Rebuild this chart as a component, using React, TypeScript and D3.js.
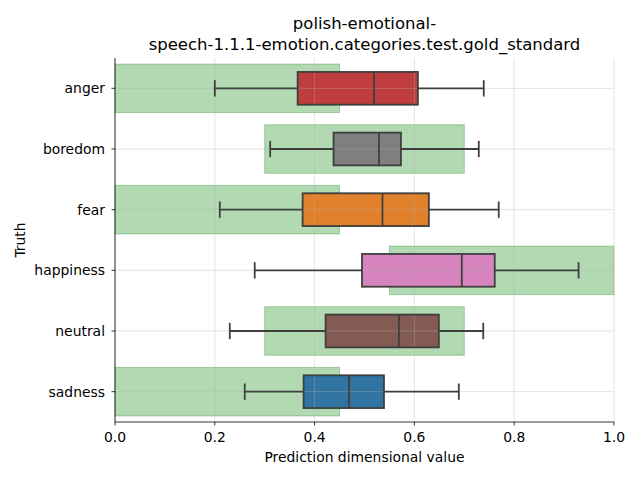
import React from "react";
import * as d3 from "d3";

const categories = ["anger", "boredom", "fear", "happiness", "neutral", "sadness"];
const whiskerLow = [0.2, 0.311, 0.21, 0.28, 0.23, 0.26];
const q1 = [0.366, 0.438, 0.376, 0.495, 0.422, 0.378];
const median = [0.519, 0.529, 0.536, 0.695, 0.569, 0.469];
const q3 = [0.607, 0.573, 0.629, 0.761, 0.649, 0.539];
const whiskerHigh = [0.739, 0.729, 0.769, 0.929, 0.738, 0.689];
const bandLow = [0.0, 0.3, 0.0, 0.55, 0.3, 0.0];
const bandHigh = [0.45, 0.7, 0.45, 1.0, 0.7, 0.45];
const boxColors = ["#c03d3e", "#7f7f7f", "#e1812c", "#d684bd", "#845b53", "#3274a1"];
const xTicks = [0, 0.2, 0.4, 0.6, 0.8, 1.0];
const title = ["polish-emotional-", "speech-1.1.1-emotion.categories.test.gold_standard"];

export default function App() {
  const W = 640, H = 480;
  const left = 115, right = 614, top = 58, bottom = 422;
  const x = d3.scaleLinear().domain([0, 1]).range([left, right]);
  const y = d3.scaleBand().domain(categories).range([top, bottom]);
  const step = y.step();
  const cy = (c: string) => (y(c) as number) + step / 2;
  const bandH = step * 0.8;
  const boxH = step * 0.54;
  const capH = boxH / 2;
  const font = "DejaVu Sans, sans-serif";
  const lineCol = "#3f3f3f";
  const fs = 13.9;
  return (
    <svg width={W} height={H} style={{ position: "absolute", left: 0, top: 0 }} fontFamily={font}>
      <rect width={W} height={H} fill="white" />
      {categories.map((c, i) => (
        <rect key={"b" + c} x={x(bandLow[i])} y={cy(c) - bandH / 2} width={x(bandHigh[i]) - x(bandLow[i])} height={bandH}
          fill="green" fillOpacity={0.3} stroke="green" strokeOpacity={0.3} strokeWidth={1} />
      ))}
      {categories.map((c, i) => (
        <rect key={"box" + c} x={x(q1[i])} y={cy(c) - boxH / 2} width={x(q3[i]) - x(q1[i])} height={boxH}
          fill={boxColors[i]} stroke="none" />
      ))}
      {xTicks.map((t) => (
        <line key={"gx" + t} x1={x(t)} x2={x(t)} y1={top} y2={bottom} stroke="#b0b0b0" strokeOpacity={0.45} strokeWidth={0.8} />
      ))}
      {categories.map((c) => (
        <line key={"gy" + c} x1={left} x2={right} y1={cy(c)} y2={cy(c)} stroke="#b0b0b0" strokeOpacity={0.45} strokeWidth={0.8} />
      ))}
      {categories.map((c, i) => {
        const yc = cy(c);
        return (
          <g key={"w" + c} stroke={lineCol} strokeWidth={1.8} fill="none">
            <line x1={x(whiskerLow[i])} x2={x(q1[i])} y1={yc} y2={yc} />
            <line x1={x(q3[i])} x2={x(whiskerHigh[i])} y1={yc} y2={yc} />
            <line x1={x(whiskerLow[i])} x2={x(whiskerLow[i])} y1={yc - capH / 2} y2={yc + capH / 2} />
            <line x1={x(whiskerHigh[i])} x2={x(whiskerHigh[i])} y1={yc - capH / 2} y2={yc + capH / 2} />
            <line x1={x(median[i])} x2={x(median[i])} y1={yc - boxH / 2} y2={yc + boxH / 2} />
            <rect x={x(q1[i])} y={yc - boxH / 2} width={x(q3[i]) - x(q1[i])} height={boxH} />
          </g>
        );
      })}
      <line x1={left} x2={left} y1={top} y2={bottom} stroke="black" strokeWidth={0.8} />
      <line x1={left} x2={right} y1={bottom} y2={bottom} stroke="black" strokeWidth={0.8} />
      {xTicks.map((t) => (
        <g key={"tx" + t}>
          <line x1={x(t)} x2={x(t)} y1={bottom} y2={bottom + 3.5} stroke="black" strokeWidth={0.8} />
          <text x={x(t)} y={bottom + 20} fontSize={fs} textAnchor="middle" fill="black">{t.toFixed(1)}</text>
        </g>
      ))}
      {categories.map((c) => (
        <g key={"ty" + c}>
          <line x1={left - 3.5} x2={left} y1={cy(c)} y2={cy(c)} stroke="black" strokeWidth={0.8} />
          <text x={left - 10} y={cy(c)} dy="0.35em" fontSize={fs} textAnchor="end" fill="black">{c}</text>
        </g>
      ))}
      <text x={(left + right) / 2} y={462} fontSize={fs} textAnchor="middle" fill="black">Prediction dimensional value</text>
      <text transform={`translate(25,${(top + bottom) / 2}) rotate(-90)`} fontSize={fs} textAnchor="middle" fill="black">Truth</text>
      {title.map((t, i) => (
        <text key={"t" + i} x={(left + right) / 2} y={29 + i * 21} fontSize={16.5} textAnchor="middle" fill="black">{t}</text>
      ))}
    </svg>
  );
}
